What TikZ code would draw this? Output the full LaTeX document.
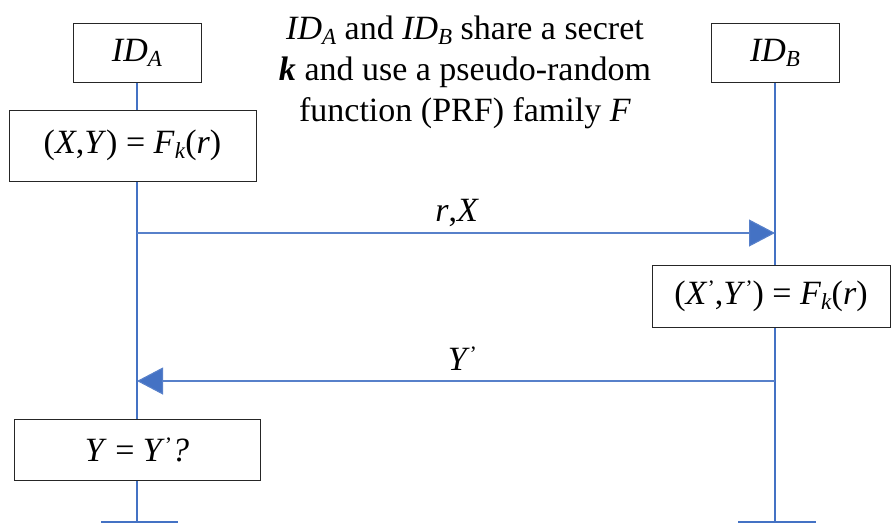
\documentclass[tikz,border=0pt]{standalone}
\usepackage{fontspec}
\setmainfont{Liberation Serif}
\usetikzlibrary{arrows.meta,backgrounds}
\definecolor{lifeblue}{HTML}{4472C4}
% lowered / raised small text for subscripts and primes at this large size
\newcommand{\lowsub}[1]{\raisebox{-5pt}{\fontsize{23}{23}\selectfont #1}}
\newcommand{\primemark}{\raisebox{9pt}{\fontsize{22}{22}\selectfont ’}}
\begin{document}
\begin{tikzpicture}[x=1pt,y=-1pt,
  every node/.style={font=\fontsize{34}{41}\selectfont},
  actor/.style={draw=black!85, line width=0.9pt, fill=white, minimum width=128pt, minimum height=59pt, inner sep=0pt},
  stepbox/.style={draw=black!85, line width=0.9pt, fill=white, inner sep=0pt},
  life/.style={draw=lifeblue, line width=1.1pt},
  msg/.style={draw=lifeblue!90, line width=1.1pt, -{Triangle[length=26pt,width=27pt,fill=lifeblue]}}]
\useasboundingbox (0,0) rectangle (891,523);

% participants
\node[actor] (idA) at (137,52.5) {\textit{ID}\lowsub{\textit{A}}};
\node[actor] (idB) at (775,53) {\textit{ID}\lowsub{\textit{B}}};

% shared assumption
\node[align=center, inner sep=0pt] (note) at (465,72) {\textit{ID}\lowsub{\textit{A}} and \textit{ID}\lowsub{\textit{B}} share a secret\\
\textbf{\textit{k}} and use a pseudo-random\\
function (PRF) family \textit{F}};

% computation steps
\node[stepbox, minimum width=247pt, minimum height=71pt] (fa) at (132.5,145.5)
  {(\textit{X},\textit{Y}) = \textit{F}\lowsub{\textit{k}}(\textit{r})};
\node[stepbox, minimum width=238pt, minimum height=62pt] (fb) at (771,296)
  {(\textit{X}\primemark,\textit{Y}\primemark) = \textit{F}\lowsub{\textit{k}}(\textit{r})};
\node[stepbox, minimum width=246pt, minimum height=61pt] (chk) at (137,449.5)
  {\textit{Y} = \textit{Y}\primemark\textit{?}};

% lifeline ends and message anchors
\coordinate (endA) at (137,522);
\coordinate (endB) at (775,522);
\coordinate (barAl) at (101,522);
\coordinate (barAr) at (178,522);
\coordinate (barBl) at (738,522);
\coordinate (barBr) at (816,522);
\coordinate (sendA) at (137,233);
\coordinate (recvB) at (775,233);
\coordinate (sendB) at (775,381);
\coordinate (recvA) at (137,381);

\begin{scope}[on background layer]
  \draw[life] (idA.south) -- (endA);
  \draw[life] (idB.south) -- (endB);
  \draw[life, line width=1.8pt] (barAl) -- (barAr);
  \draw[life, line width=1.8pt] (barBl) -- (barBr);
\end{scope}

% messages
\draw[msg] (sendA) -- (recvB) node[pos=0.502, above=6pt, inner sep=0pt] (m1) {\textit{r},\textit{X}};
\draw[msg] (sendB) -- (recvA) node[pos=0.49, above=10pt, inner sep=0pt] (m2) {\textit{Y}\primemark};
\end{tikzpicture}
\end{document}
